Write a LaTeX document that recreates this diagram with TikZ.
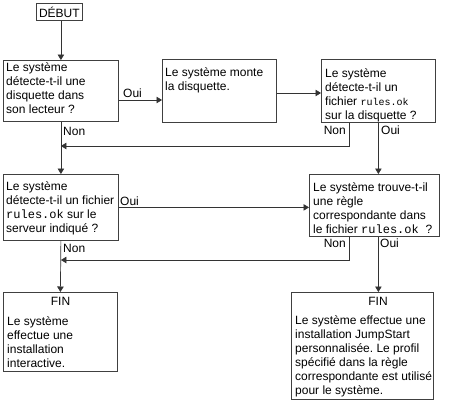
\documentclass[tikz,border=0pt]{standalone}
\usepackage{fontspec}
\setmainfont{Liberation Sans}
\newfontfamily\monof{Liberation Mono}
\usetikzlibrary{arrows.meta,calc}
\frenchspacing
\begin{document}
\begin{tikzpicture}[x=1pt,y=-1pt,
  box/.style={draw=black!75, line width=0.8pt, inner sep=0pt, anchor=north west},
  txt/.style={inner sep=0pt, anchor=north west, align=left, font=\fontsize{12}{14}\selectfont},
  lab/.style={inner sep=0pt, font=\fontsize{12}{14}\selectfont},
  conn/.style={line width=0.7pt, draw=black!80},
  arr/.style={conn, -{Triangle[length=5.5pt,width=6.5pt]}}
]
\useasboundingbox (0,0) rectangle (465,402);
% boxes
\node[box, minimum width=46pt, minimum height=17pt, font=\fontsize{12}{14}\selectfont] (debut) at (36,3) {DÉBUT};
\node[box, minimum width=115pt, minimum height=61pt] (b1) at (3,60) {};
\node[box, minimum width=114pt, minimum height=63pt] (b2) at (162,59) {};
\node[box, minimum width=114pt, minimum height=63pt] (b3) at (321,59) {};
\node[box, minimum width=115pt, minimum height=66pt] (b4) at (3,174) {};
\node[box, minimum width=130pt, minimum height=62pt] (b5) at (309,174) {};
\node[box, minimum width=114pt, minimum height=79pt] (b6) at (3,292) {};
\node[box, minimum width=142pt, minimum height=107pt] (b7) at (291,292) {};
% texts
\node[txt] (t1) at ($(b1.north west)+(3,2.5)$) {Le système\\détecte-t-il une\\disquette dans\\son lecteur ?};
\node[txt] (t2) at ($(b2.north west)+(3,8)$) {Le système monte\\la disquette.};
\node[txt] (t3) at ($(b3.north west)+(4,9)$) {Le système\\détecte-t-il un\\fichier {\monof\fontsize{10}{14}\selectfont rules.ok}\\sur la disquette ?};
\node[txt] (t4) at ($(b4.north west)+(3,7)$) {Le système\\détecte-t-il un fichier\\{\monof rules.ok} sur le\\serveur indiqué ?};
\node[txt] (t5) at ($(b5.north west)+(4,8)$) {Le système trouve-t-il\\une règle\\correspondante dans\\le fichier {\monof rules.ok}\ \ ?};
\node[lab, anchor=base] (f6) at (60.5,305) {FIN};
\node[txt] (t6) at ($(b6.north west)+(4,24)$) {Le système\\effectue une\\installation\\interactive.};
\node[lab, anchor=base] (f7) at (378,305) {FIN};
\node[txt] (t7) at ($(b7.north west)+(4,23)$) {Le système effectue une\\installation JumpStart\\personnalisée. Le profil\\spécifié dans la règle\\correspondante est utilisé\\pour le système.};
% helper coordinates
\coordinate (y1) at (0,100);
\coordinate (y2) at (0,93);
\coordinate (n1) at (349,146);
\coordinate (n2) at (349,260);
% connectors
\draw[arr] (b1.north |- debut.south) -- (b1.north);
\draw[arr] (b1.east |- y1) -- (b2.west |- y1);
\draw[arr] (b2.east |- y2) -- (b3.west |- y2);
\draw[arr] (b3.south -| n1) -- (n1) -- (b1.south |- n1);
\draw[arr] (b3.south) -- (b3.south |- b5.north);
\draw[arr] (b1.south) -- (b4.north);
\draw[arr] (b4.east) -- (b4.east -| b5.west);
\draw[arr] (b5.south -| n2) -- (n2) -- (b4.south |- n2);
\draw[arr] (b5.south -| b3.south) -- (b3.south |- b7.north);
\draw[arr] (b4.south) -- (b6.north);
% labels
\node[lab, anchor=base west] (l1) at (123,97) {Oui};
\node[lab, anchor=base east] (l2) at (346,134) {Non};
\node[lab, anchor=base west] (l3) at (381,134) {Oui};
\node[lab, anchor=base west] (l4) at (63,135) {Non};
\node[lab, anchor=base west] (l5) at (120,205) {Oui};
\node[lab, anchor=base east] (l6) at (346,247) {Non};
\node[lab, anchor=base west] (l7) at (380,247) {Oui};
\node[lab, anchor=base west] (l8) at (63,252) {Non};
\end{tikzpicture}
\end{document}
